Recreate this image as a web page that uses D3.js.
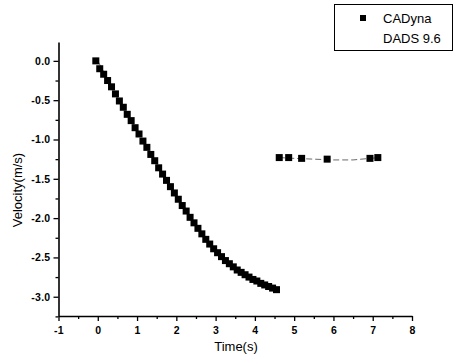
<!DOCTYPE html>
<html>
<head>
<meta charset="utf-8">
<script src="https://cdn.jsdelivr.net/npm/d3@7"></script>
<style>
  body { margin: 0; background: #fff; }
  svg { display: block; font-family: "Liberation Sans", Arial, sans-serif; }
  .tick text { font-weight: bold; font-size: 10.5px; letter-spacing: 0.3px; }
</style>
</head>
<body>
<div id="chart"></div>
<script>
// CADyna velocity samples (s, m/s)
const cadynaTime = [-0.05, 0.05, 0.15, 0.25, 0.35, 0.45, 0.55, 0.65, 0.75, 0.85, 0.95,
  1.05, 1.15, 1.25, 1.35, 1.45, 1.55, 1.65, 1.75, 1.85, 1.95,
  2.05, 2.15, 2.25, 2.35, 2.45, 2.55, 2.65, 2.75, 2.85, 2.95,
  3.05, 3.15, 3.25, 3.35, 3.45, 3.55, 3.65, 3.75, 3.85, 3.95,
  4.05, 4.15, 4.25, 4.35, 4.45, 4.55,
  4.62, 4.86, 5.19, 5.84, 6.93, 7.13];
const cadynaVel = [0.00, -0.10, -0.17, -0.25, -0.33, -0.42, -0.51, -0.59, -0.68, -0.76, -0.85,
  -0.93, -1.02, -1.10, -1.19, -1.27, -1.36, -1.44, -1.52, -1.60, -1.68,
  -1.76, -1.84, -1.91, -1.99, -2.06, -2.13, -2.20, -2.27, -2.33, -2.39,
  -2.44, -2.49, -2.54, -2.58, -2.62, -2.66, -2.69, -2.72, -2.75, -2.78,
  -2.80, -2.83, -2.85, -2.87, -2.89, -2.91,
  -1.23, -1.23, -1.24, -1.25, -1.24, -1.23];

// DADS 9.6 reference curve (null = gap)
const dadsTime = [0.0, 0.5, 1.0, 1.5, 2.0, 2.5, 3.0, 3.5, 4.0, 4.5, null,
  4.62, 5.0, 5.5, 6.0, 6.5, 7.15];
const dadsVel = [0.0, -0.47, -0.89, -1.31, -1.72, -2.10, -2.42, -2.64, -2.79, -2.90, null,
  -1.23, -1.24, -1.25, -1.26, -1.26, -1.23];

const xTicks = [-1, 0, 1, 2, 3, 4, 5, 6, 7, 8];
const yTicks = [0.0, -0.5, -1.0, -1.5, -2.0, -2.5, -3.0];
const seriesNames = ["CADyna", "DADS 9.6"];

const W = 458, H = 359;
const svg = d3.select("#chart").append("svg")
  .attr("width", W)
  .attr("height", H);

const x = d3.scaleLinear().domain([-1, 8]).range([58.5, 412]);
const y = d3.scaleLinear().domain([-3.245, 0.24]).range([316, 42]);

// minor ticks
const xMinor = d3.range(-1, 8.01, 0.5).filter(v => !xTicks.includes(v));
const yMinor = d3.range(-3.25, 0.01, 0.25).filter(v => !yTicks.some(t => Math.abs(t - v) < 1e-6));

const xAxis = svg.append("g")
  .attr("transform", `translate(0,${y.range()[0]})`)
  .call(d3.axisBottom(x).tickValues(xTicks).tickSize(5).tickPadding(6).tickSizeOuter(0));
svg.append("g")
  .attr("transform", `translate(0,${y.range()[0]})`)
  .call(d3.axisBottom(x).tickValues(xMinor).tickFormat("").tickSize(3).tickSizeOuter(0))
  .select(".domain").remove();

const yAxis = svg.append("g")
  .attr("transform", `translate(${x.range()[0]},0)`)
  .call(d3.axisLeft(y).tickValues(yTicks).tickSize(5).tickPadding(3).tickSizeOuter(0));
svg.append("g")
  .attr("transform", `translate(${x.range()[0]},0)`)
  .call(d3.axisLeft(y).tickValues(yMinor).tickFormat("").tickSize(3).tickSizeOuter(0))
  .select(".domain").remove();

svg.selectAll(".domain").attr("stroke-width", 1.6);
svg.selectAll(".tick line").attr("stroke-width", 1.3);
yAxis.selectAll(".tick text").text(d => d3.format(".1f")(d).replace("−", "-"));
xAxis.selectAll(".tick text").text(d => String(d));

// axis titles
svg.append("text")
  .attr("x", 236).attr("y", 351)
  .attr("text-anchor", "middle")
  .attr("font-size", 13)
  .text("Time(s)");
svg.append("text")
  .attr("transform", "translate(22,190) rotate(-90)")
  .attr("text-anchor", "middle")
  .attr("font-size", 13)
  .text("Velocity(m/s)");

// DADS line
const dadsData = dadsTime.map((t, i) => ({ t, v: dadsVel[i] }));
const line = d3.line()
  .defined(d => d.t !== null)
  .x(d => x(d.t))
  .y(d => y(d.v));
svg.append("path")
  .datum(dadsData)
  .attr("fill", "none")
  .attr("stroke", "#444")
  .attr("stroke-width", 0.8)
  .attr("stroke-dasharray", "6,3")
  .attr("d", line);

// CADyna markers
const cadData = cadynaTime.map((t, i) => ({ t, v: cadynaVel[i] }));
const ms = 7;
svg.append("g").selectAll("rect")
  .data(cadData)
  .join("rect")
  .attr("x", d => x(d.t) - ms / 2)
  .attr("y", d => y(d.v) - ms / 2)
  .attr("width", ms)
  .attr("height", ms)
  .attr("fill", "#000");

// legend
const legend = svg.append("g");
legend.append("rect")
  .attr("x", 334.5).attr("y", 4.5)
  .attr("width", 118).attr("height", 46)
  .attr("fill", "#fff")
  .attr("stroke", "#000")
  .attr("stroke-width", 1);
legend.append("rect")
  .attr("x", 363 - 3).attr("y", 18 - 3)
  .attr("width", 6).attr("height", 6)
  .attr("fill", "#000");
legend.selectAll("text.lab")
  .data(seriesNames)
  .join("text")
  .attr("class", "lab")
  .attr("x", 383)
  .attr("y", (d, i) => 22.5 + i * 20)
  .attr("font-size", 13)
  .text(d => d);
</script>
</body>
</html>
